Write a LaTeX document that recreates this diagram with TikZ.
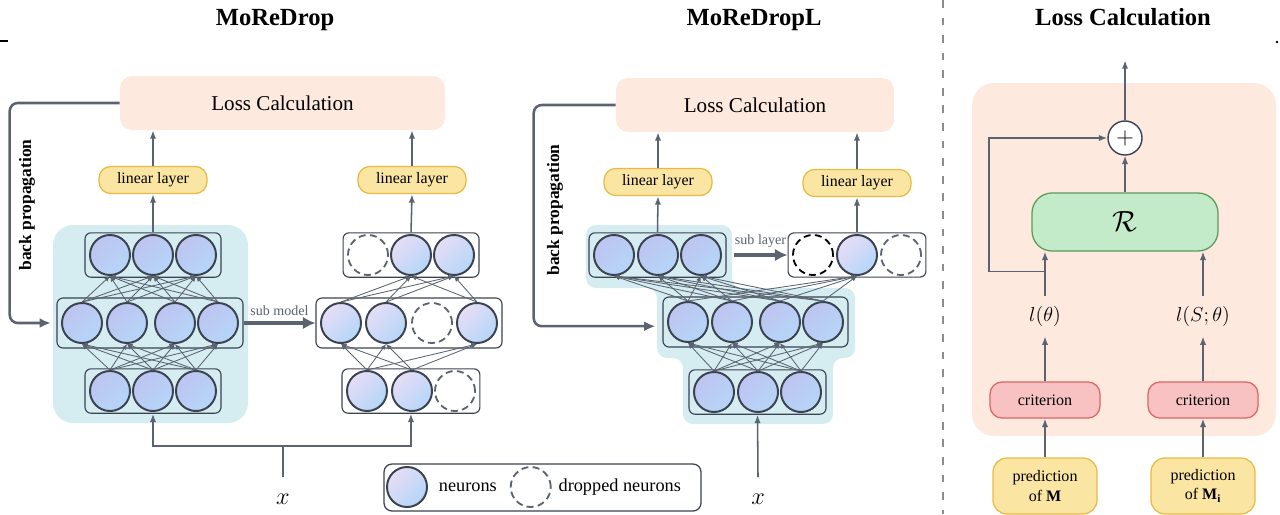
\documentclass[tikz,border=0pt]{standalone}
\usepackage{fontspec}
\setmainfont{Liberation Serif}
\usetikzlibrary{arrows.meta,positioning,fit}

\definecolor{lgray}{HTML}{5B6270}
\definecolor{ndraw}{HTML}{3B4250}
\definecolor{peach}{HTML}{FDE9DE}
\definecolor{bgcyan}{HTML}{D5EDF1}
\definecolor{ylwfill}{HTML}{FAE5A3}
\definecolor{ylwdraw}{HTML}{E6BB45}
\definecolor{pinkfill}{HTML}{F8C2C2}
\definecolor{pinkdraw}{HTML}{E06464}
\definecolor{grnfill}{HTML}{C3EBC9}
\definecolor{grndraw}{HTML}{5C9A5C}
\definecolor{nblue}{HTML}{B5D6F8}
\definecolor{nviolet}{HTML}{BEC4F0}
\definecolor{npale}{HTML}{E6DDF6}

\begin{document}
\begin{tikzpicture}[x=0.025cm, y=-0.025cm,
    neuron/.style={circle, draw=ndraw, line width=1.4pt, minimum size=1cm, inner sep=0pt,
        left color=nviolet, right color=nblue, shading angle=45},
    subneuron/.style={neuron, left color=npale, right color=nblue, shading angle=45},
    dropped/.style={circle, draw=lgray, line width=1.3pt, dash pattern=on 5pt off 3pt,
        minimum size=1cm, inner sep=0pt},
    rowbox/.style={draw=ndraw, line width=0.8pt, rounded corners=0.15cm,
        inner xsep=0.1cm, inner ysep=0.03cm},
    lossbox/.style={fill=peach, rounded corners=0.3cm, inner sep=0pt},
    losstxt/.style={font=\fontsize{15}{18}\selectfont},
    linbox/.style={fill=ylwfill, draw=ylwdraw, line width=0.9pt, rounded corners=0.3cm,
        minimum width=2.7cm, minimum height=0.68cm, font=\fontsize{11.3}{13}\selectfont},
    critbox/.style={fill=pinkfill, draw=pinkdraw, line width=0.9pt, rounded corners=0.3cm,
        minimum width=2.75cm, minimum height=0.9cm, font=\fontsize{11.4}{13}\selectfont},
    predbox/.style={fill=ylwfill, draw=ylwdraw, line width=0.9pt, rounded corners=0.35cm,
        minimum width=2.6cm, minimum height=1.4cm, align=center,
        font=\fontsize{11.4}{13.6}\selectfont},
    rbox/.style={fill=grnfill, draw=grndraw, line width=0.9pt, rounded corners=0.5cm,
        inner sep=0pt},
    rtxt/.style={font=\fontsize{20}{22}\selectfont},
    plus/.style={circle, fill=white, draw=ndraw, line width=1pt, minimum size=0.85cm,
        inner sep=0pt, font=\fontsize{18}{20}\selectfont},
    legbox/.style={fill=white, draw=ndraw, line width=0.9pt, rounded corners=0.2cm, inner sep=0pt},
    title/.style={font=\bfseries\fontsize{17.5}{20}\selectfont},
    bplbl/.style={rotate=90, font=\bfseries\fontsize{12.4}{14}\selectfont},
    sublbl/.style={font=\fontsize{10}{12}\selectfont},
    lgtxt/.style={font=\fontsize{13}{15}\selectfont},
    xlbl/.style={font=\fontsize{17}{20}\selectfont, outer ysep=8.5pt},
    mlbl/.style={font=\fontsize{14}{16}\selectfont, outer ysep=4pt},
    conn/.style={-{Latex[length=4pt,width=3.5pt]}, lgray, line width=0.6pt},
    arr/.style={-{Latex[length=6pt,width=4.5pt]}, lgray, line width=1.1pt},
    bparr/.style={-{Latex[length=8pt,width=7pt]}, lgray, line width=1.8pt, rounded corners=0.2cm},
    bigarr/.style={-{Latex[length=9pt,width=9pt]}, lgray, line width=3.5pt}]

\useasboundingbox (0,0) rectangle (1280,514);

% backgrounds
\fill[bgcyan, rounded corners=0.5cm] (53,225) rectangle (248,423);
\fill[bgcyan, rounded corners=0.25cm] (586,225) -- (732,225) -- (732,288) -- (855,288)
    -- (855,358) -- (833,358) -- (833,424) -- (683,424) -- (683,358) -- (657,358)
    -- (657,288) -- (586,288) -- cycle;
\fill[peach, rounded corners=0.55cm] (972,83) rectangle (1276,436);

\draw[gray!90, line width=1.4pt, dash pattern=on 5.5pt off 7pt] (943,0) -- (943,514);
\draw[line width=1.5pt] (0,41) -- (8,41);
\fill (1277,42) circle (1pt);

\node[title] (ttlA) at (275,20) {MoReDrop};
\node[title] (ttlB) at (754,20) {MoReDropL};
\node[title] (ttlC) at (1123,17) {Loss Calculation};

%%% MoReDrop
\node[lossbox, fit={(120,76) (445,130)},
    label={[losstxt]center:Loss Calculation}] (lossA) {};
\node[linbox] (linA1) at (153,180) {linear layer};
\node[linbox] (linA2) at (412,180) {linear layer};

\foreach \x/\y/\name in
    {
    110/255/mt1, 153/255/mt2, 196/255/mt3,
    82/323/mm1, 127/323/mm2, 175/323/mm3, 218/323/mm4,
    110/391/mb1, 153/391/mb2, 196/391/mb3}
    {
    \node[neuron] (\name) at (\x,\y) {};
    }
\foreach \x/\y/\name in
    {
    411/255/st2, 454/255/st3,
    341/323/sm1, 386/323/sm2, 477/323/sm4,
    367/391/sb1, 412/391/sb2}
    {
    \node[subneuron] (\name) at (\x,\y) {};
    }
\foreach \x/\y/\name in {368/255/st1, 432/323/sm3, 455/391/sb3}
    \node[dropped] (\name) at (\x,\y) {};

\node[rowbox, fit=(mt1)(mt3)] (mtrow) {};
\node[rowbox, fit=(mm1)(mm4), inner ysep=0.1cm] (mmrow) {};
\node[rowbox, fit=(mb1)(mb3)] (mbrow) {};
\node[rowbox, fit=(st1)(st3)] (strow) {};
\node[rowbox, fit=(sm1)(sm4), inner ysep=0.1cm] (smrow) {};
\node[rowbox, fit=(sb1)(sb3)] (sbrow) {};

\foreach \i in {1,2,3}
    \foreach \j in {1,2,3,4}
    {
    \draw[conn] (mb\i.north) -- (mm\j.south);
    \draw[conn] (mm\j.north) -- (mt\i.south);
    }
\foreach \i in {1,2}
    \foreach \j in {1,2,4}
    \draw[conn] (sb\i.north) -- (sm\j.south);
\foreach \i in {1,2,4}
    \foreach \j in {2,3}
    \draw[conn] (sm\i.north) -- (st\j.south);

\draw[bigarr] (mmrow.east) -- (smrow.west) node[midway, above, sublbl] (smlbl) {sub model};

\draw[arr] (mtrow.north) -- (linA1.south);
\draw[arr] (strow.north) -- (linA2.south);
\draw[arr] (linA1.north) -- (linA1 |- lossA.south);
\draw[arr] (linA2.north) -- (linA2 |- lossA.south);

\draw[bparr] (lossA.west) -- ++(-110,0) |- ([xshift=-4pt]mmrow.west);
\node[bplbl] (bpA) at (27,205) {back propagation};

\node[xlbl] (xA) at (283,499) {$x$};
\draw[lgray, line width=1.1pt] (xA.north) -- ++(0,-31) coordinate (xAj);
\draw[arr] (xAj) -| (mbrow.south);
\draw[arr] (xAj) -| (sbrow.south);

%%% MoReDropL
\node[lossbox, fit={(616,78) (894,132)},
    label={[losstxt]center:Loss Calculation}] (lossB) {};
\node[linbox] (linB1) at (658,182) {linear layer};
\node[linbox] (linB2) at (857,183) {linear layer};

\foreach \x/\y/\name in
    {
    614/255/lt1, 658/255/lt2, 701/255/lt3,
    688/322/lm1, 732/322/lm2, 780/322/lm3, 823/322/lm4,
    714/392/lb1, 758/392/lb2, 801/392/lb3}
    {
    \node[neuron] (\name) at (\x,\y) {};
    }
\node[subneuron] (sl2) at (857,255) {};
\node[dropped, draw=black] (sl1) at (813,255) {};
\node[dropped] (sl3) at (901,255) {};

\node[rowbox, fit=(lt1)(lt3)] (ltrow) {};
\node[rowbox, fit=(sl1)(sl3)] (slrow) {};
\node[rowbox, fit=(lm1)(lm4), inner ysep=0.1cm] (lmrow) {};
\node[rowbox, fit=(lb1)(lb3)] (lbrow) {};

\foreach \i in {1,2,3,4}
    {
    \foreach \j in {1,2,3}
        {
        \draw[conn] (lb\j.north) -- (lm\i.south);
        \draw[conn] (lm\i.north) -- (lt\j.south);
        }
    \draw[conn] (lm\i.north) -- (sl2.south);
    }

\draw[bigarr] ([xshift=5pt]ltrow.east) -- (slrow.west) node[midway, above, sublbl] (sllbl) {sub layer};

\draw[arr] (ltrow.north) -- (linB1.south);
\draw[arr] (slrow.north) -- (linB2.south);
\draw[arr] (linB1.north) -- (linB1 |- lossB.south);
\draw[arr] (linB2.north) -- (linB2 |- lossB.south);

\draw[bparr] (lossB.west) -- ++(-82,0) |- ([shift={(-5pt,-3pt)}]lmrow.west);
\node[bplbl] (bpB) at (555,210) {back propagation};

\node[xlbl] (xB) at (758,499) {$x$};
\draw[arr] (xB.north) -- (lbrow.south);

%%% legend
\node[legbox, fit={(384,464) (701,511)}] (legend) {};
\node[subneuron] (lgn) at (407,487) {};
\node[lgtxt, right=0.15cm of lgn] (lgntxt) {neurons};
\node[dropped, right=0.2cm of lgntxt] (lgd) {};
\node[lgtxt, right=0.05cm of lgd] (lgdtxt) {dropped neurons};

%%% loss calculation
\node[plus] (sum) at (1125,138) {$+$};
\node[rbox, fit={(1032,193) (1218,251)},
    label={[rtxt]center:$\mathcal{R}$}] (reg) {};
\node[mlbl] (lA) at (1045,316) {$l(\theta)$};
\node[mlbl] (lB) at (1203,316) {$l(S;\theta)$};
\node[critbox] (critA) at (1045,400) {criterion};
\node[critbox] (critB) at (1203,400) {criterion};
\node[predbox] (predA) at (1045,486) {prediction\\of \textbf{M}};
\node[predbox] (predB) at (1203,486) {prediction\\of \textbf{M}$_{\mathbf{i}}$};

\draw[arr] (sum.north) -- ++(0,-60);
\draw[arr] (reg.north) -- (sum.south);
\draw[arr] (lA.north) -- (lA.north |- reg.south);
\draw[arr] (lB.north) -- (lB.north |- reg.south);
\draw[arr] (lA.north) ++(0,-24) -- ++(-56,0) |- (sum.west);
\draw[arr] (critA.north) -- (lA.south);
\draw[arr] (critB.north) -- (lB.south);
\draw[arr] (predA.north) -- (critA.south);
\draw[arr] (predB.north) -- (critB.south);

\end{tikzpicture}
\end{document}
